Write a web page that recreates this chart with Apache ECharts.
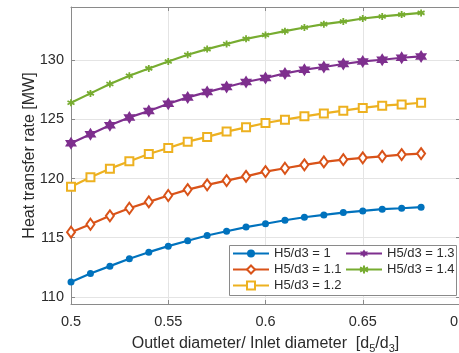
<!DOCTYPE html>
<html>
<head>
<meta charset="utf-8">
<script src="https://cdn.jsdelivr.net/npm/echarts@6/dist/echarts.min.js"></script>
<style>
  html, body { margin: 0; padding: 0; background: #fff; }
  #chart { width: 459px; height: 353px; }
</style>
</head>
<body>
<div id="chart"></div>
<script>
// Outlet/inlet diameter ratio d5/d3
const ratios = [0.50, 0.51, 0.52, 0.53, 0.54, 0.55, 0.56, 0.57, 0.58, 0.59,
                0.60, 0.61, 0.62, 0.63, 0.64, 0.65, 0.66, 0.67, 0.68];

// Heat transfer rate [MW] for each H5/d3
const h100 = [111.25, 111.98, 112.60, 113.22, 113.78, 114.29, 114.74, 115.19, 115.55, 115.90,
              116.18, 116.48, 116.73, 116.93, 117.13, 117.27, 117.41, 117.49, 117.58];
const h110 = [115.47, 116.14, 116.85, 117.49, 118.03, 118.57, 119.07, 119.47, 119.83, 120.19,
              120.59, 120.87, 121.16, 121.41, 121.60, 121.75, 121.88, 122.03, 122.11];
const h120 = [119.30, 120.11, 120.84, 121.46, 122.08, 122.59, 123.12, 123.52, 123.97, 124.33,
              124.70, 124.98, 125.26, 125.51, 125.74, 125.97, 126.16, 126.27, 126.41];
const h130 = [122.98, 123.74, 124.50, 125.17, 125.71, 126.33, 126.86, 127.31, 127.74, 128.16,
              128.50, 128.89, 129.20, 129.43, 129.68, 129.90, 130.04, 130.21, 130.32];
const h140 = [126.41, 127.20, 127.99, 128.69, 129.31, 129.90, 130.46, 130.94, 131.37, 131.81,
              132.13, 132.46, 132.77, 133.05, 133.27, 133.53, 133.70, 133.86, 134.00];

const seriesNames = ['H5/d3 = 1', 'H5/d3 = 1.1', 'H5/d3 = 1.2', 'H5/d3 = 1.3', 'H5/d3 = 1.4'];
const xTicks = [0.5, 0.55, 0.6, 0.65, 0.7];
const yTicks = [110, 115, 120, 125, 130];

const FONT = '"Liberation Sans", Arial, Helvetica, sans-serif';
const TEXT = '#2b2b2b';
const AXIS = '#8a8a8a';
const GRID = '#e4e4e4';

const HEXAGRAM = 'path://M0,-1L0.2887,-0.5L0.866,-0.5L0.577,0L0.866,0.5L0.2887,0.5L0,1L-0.2887,0.5L-0.866,0.5L-0.577,0L-0.866,-0.5L-0.2887,-0.5Z';
const ASTERISK = 'path://M0,-1L0,1M-0.866,-0.5L0.866,0.5M-0.866,0.5L0.866,-0.5';

function pairs(ys) { return ratios.map((x, i) => [x, ys[i]]); }

function fmtX(v) {
  for (const t of xTicks) if (Math.abs(v - t) < 1e-6) return String(t);
  return '';
}

function makeSeries(name, ys, color, symbol, size, itemStyle) {
  return {
    name: name,
    type: 'line',
    data: pairs(ys),
    symbol: symbol,
    symbolSize: size,
    showAllSymbol: true,
    lineStyle: { color: color, width: 2.2 },
    itemStyle: Object.assign({ color: color }, itemStyle || {}),
    emphasis: { disabled: true },
    z: 3
  };
}

const chart = echarts.init(document.getElementById('chart'), null, { renderer: 'canvas' });

const axisCommon = {
  axisLine: { show: true, onZero: false, lineStyle: { color: AXIS, width: 1 } },
  axisTick: { show: true, inside: true, length: 4, lineStyle: { color: AXIS } },
  splitLine: { show: false }
};

chart.setOption({
  backgroundColor: '#fff',
  animation: false,
  grid: { left: 71, top: 7, width: 389, height: 297, containLabel: false, outerBoundsMode: 'none' },
  xAxis: [
    Object.assign({}, axisCommon, {
      type: 'value', min: 0.5, max: 0.7, interval: 0.05, position: 'bottom',
      axisLabel: { color: TEXT, fontFamily: FONT, fontSize: 14.5, margin: 10, formatter: fmtX, hideOverlap: false },
      splitLine: { show: true, lineStyle: { color: GRID, width: 1 } },
      name: 'Outlet diameter/ Inlet diameter  [d{sub|5}/d{sub|3}]',
      nameLocation: 'middle', nameGap: 30, nameMoveOverlap: false,
      nameTextStyle: {
        color: TEXT, fontFamily: FONT, fontSize: 16,
        rich: { sub: { fontFamily: FONT, fontSize: 11, color: TEXT, verticalAlign: 'bottom', padding: [9, 0, 0, 0] } }
      }
    }),
    Object.assign({}, axisCommon, {
      type: 'value', min: 0.5, max: 0.7, interval: 0.05, position: 'top',
      axisLabel: { show: false }
    })
  ],
  yAxis: [
    Object.assign({}, axisCommon, {
      type: 'value', min: 109.4, max: 134.5, position: 'left',
      axisLabel: {
        color: TEXT, fontFamily: FONT, fontSize: 14.5, margin: 7,
        formatter: v => String(v),
        customValues: yTicks
      },
      axisTick: { show: true, inside: true, length: 4, lineStyle: { color: AXIS }, customValues: yTicks },
      splitLine: { show: true, lineStyle: { color: GRID, width: 1 } },
      name: 'Heat transfer rate [MW]',
      nameLocation: 'middle', nameGap: 33, nameMoveOverlap: false,
      nameTextStyle: { color: TEXT, fontFamily: FONT, fontSize: 16 }
    }),
    Object.assign({}, axisCommon, {
      type: 'value', min: 109.4, max: 134.5, position: 'right',
      axisLabel: { show: false, customValues: yTicks },
      axisTick: { show: true, inside: true, length: 4, lineStyle: { color: AXIS }, customValues: yTicks }
    })
  ],
  graphic: [{
    type: 'rect', z: 50,
    shape: { x: 229.5, y: 245.5, width: 227, height: 50 },
    style: { fill: '#fff', stroke: '#8a8a8a', lineWidth: 1 }
  }],
  legend: [
    {
      data: seriesNames.slice(0, 3), orient: 'vertical', left: 232, top: 247,
      itemWidth: 36, itemHeight: 10, itemGap: 3, padding: 0, z: 60,
      textStyle: { color: TEXT, fontFamily: FONT, fontSize: 13 }
    },
    {
      data: seriesNames.slice(3), orient: 'vertical', left: 345, top: 247,
      itemWidth: 36, itemHeight: 10, itemGap: 3, padding: 0, z: 60,
      textStyle: { color: TEXT, fontFamily: FONT, fontSize: 13 }
    }
  ],
  series: [
    makeSeries(seriesNames[0], h100, '#0072BD', 'circle', 7),
    makeSeries(seriesNames[1], h110, '#D95319', 'diamond', [8, 11], { color: '#fff', borderColor: '#D95319', borderWidth: 2 }),
    makeSeries(seriesNames[2], h120, '#EDB120', 'rect', 8, { color: '#fff', borderColor: '#EDB120', borderWidth: 2 }),
    makeSeries(seriesNames[3], h130, '#7E2F8E', HEXAGRAM, [12, 13]),
    makeSeries(seriesNames[4], h140, '#77AC30', ASTERISK, 7, { borderColor: '#77AC30', borderWidth: 1.8 })
  ]
});
</script>
</body>
</html>
